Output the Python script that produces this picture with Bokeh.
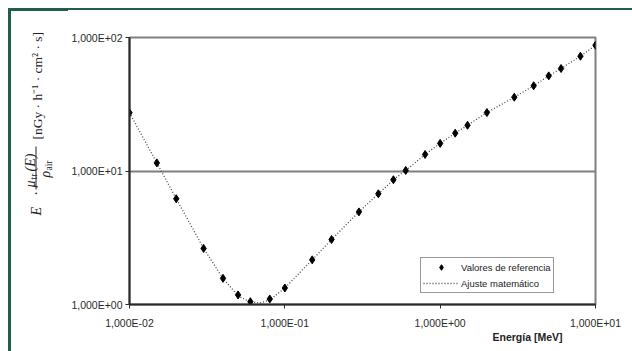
import math
from bokeh.plotting import figure
from bokeh.layouts import row, column
from bokeh.models import (FixedTicker, CustomJSTickFormatter, Title, Spacer,
                          Legend, LegendItem)
from bokeh.core.properties import value
from bokeh.embed import file_html
from bokeh.resources import INLINE

# Energy grid [MeV] and reference values
energy = [0.01, 0.015, 0.02, 0.03, 0.04, 0.05, 0.06, 0.08, 0.1, 0.15, 0.2, 0.3,
          0.4, 0.5, 0.6, 0.8, 1.0, 1.25, 1.5, 2.0, 3.0, 4.0, 5.0, 6.0, 8.0, 10.0]
reference = [27.3, 11.5, 6.2, 2.63, 1.57, 1.18, 1.05, 1.10, 1.33, 2.16, 3.07, 4.94,
             6.75, 8.6, 10.1, 13.3, 16.1, 19.2, 22.0, 27.4, 35.7, 43.5, 51.6, 58.6, 72.4, 87.5]

# Mathematical fit (dotted curve)
fit_energy = [0.01, 0.015, 0.02, 0.03, 0.04, 0.05, 0.06, 0.07, 0.08, 0.1, 0.15, 0.2, 0.3,
              0.4, 0.5, 0.6, 0.8, 1.0, 1.25, 1.5, 2.0, 3.0, 4.0, 5.0, 6.0, 8.0, 10.0]
fit_values = [27.3, 11.5, 6.2, 2.63, 1.57, 1.16, 1.04, 1.03, 1.08, 1.33, 2.16, 3.07, 4.94,
              6.75, 8.6, 10.1, 13.3, 16.1, 19.2, 22.0, 27.4, 35.7, 43.5, 51.6, 58.6, 72.4, 87.5]

x_ticks = [0.01, 0.1, 1, 10]
y_ticks = [1, 10, 100]

x_title = "Energía [MeV]"
series_names = ["Valores de referencia", "Ajuste matemático"]

GREEN = "#1f5d4d"
TXT = "#222222"

def blank(fig, fill="white"):
    fig.axis.visible = False
    fig.grid.visible = False
    fig.outline_line_color = None
    fig.background_fill_color = fill
    fig.border_fill_color = fill
    fig.frame_align = False

# ---------------- main chart (page x 68..632, y 10..351) ----------------
p = figure(width=564, height=341, x_axis_type="log", y_axis_type="log",
           x_range=(0.01, 10), y_range=(1, 100),
           output_backend="svg", toolbar_location=None,
           min_border_left=60, min_border_right=37, min_border_top=27, min_border_bottom=47)
p.frame_align = False
p.background_fill_color = "white"
p.border_fill_color = "white"
p.outline_line_color = "#7f7f7f"
p.outline_line_width = 2

fmt = CustomJSTickFormatter(code="""
const s = tick.toExponential(3);
const parts = s.split('e');
const sign = parts[1][0];
let d = parts[1].slice(1);
if (d.length < 2) { d = '0' + d; }
return parts[0].replace('.', ',') + 'E' + sign + d;
""")

for ax, ticks in ((p.xaxis, x_ticks), (p.yaxis, y_ticks)):
    ax.ticker = FixedTicker(ticks=ticks, minor_ticks=[])
    ax.formatter = fmt
    ax.axis_line_color = "#2a2a2a"
    ax.axis_line_width = 2
    ax.major_tick_line_color = "#2a2a2a"
    ax.major_tick_line_width = 1
    ax.major_tick_out = 4
    ax.major_tick_in = 0
    ax.minor_tick_line_color = None
    ax.major_label_text_font = "Liberation Sans"
    ax.major_label_text_font_size = "10.5px"
    ax.major_label_text_color = "#2a2a2a"
p.xaxis.major_label_standoff = 8
p.yaxis.major_label_standoff = 3

p.xgrid.grid_line_color = None
p.ygrid.ticker = FixedTicker(ticks=y_ticks)
p.ygrid.grid_line_color = "#7f7f7f"
p.ygrid.grid_line_width = 2

line_r = p.line(fit_energy, fit_values, line_color="#4a4a4a", line_width=1.3, line_dash="1 2")
pts_r = p.scatter(energy, reference, marker="diamond", size=8, color="black")

legend = Legend(items=[LegendItem(label=series_names[0], renderers=[pts_r]),
                       LegendItem(label=series_names[1], renderers=[line_r])],
                location=(291, 11))
legend.label_text_font = "Liberation Sans"
legend.label_text_font_size = "9.5px"
legend.label_text_color = TXT
legend.label_height = 14
legend.glyph_height = 14
legend.glyph_width = 36
legend.label_standoff = 2
legend.spacing = 2
legend.padding = 2
legend.margin = 0
legend.border_line_color = "#333333"
legend.border_line_width = 1
legend.background_fill_color = "white"
legend.background_fill_alpha = 1
p.add_layout(legend, "center")

p.add_layout(Title(text=x_title, align="right", offset=33, standoff=-6,
                   text_font="Liberation Sans", text_font_size="10.5px",
                   text_font_style="bold", text_color=TXT), "below")

# ---------------- top strip (page x 68..632, y 0..10) ----------------
gap = Spacer(width=564, height=8)
bar = Spacer(width=564, height=2, styles={"background-color": GREEN})

# ---------------- y-axis title panel (page x 0..68, y 0..351) ----------------
q = figure(width=68, height=351, x_range=(0, 68), y_range=(0, 351),
           output_backend="svg", toolbar_location=None,
           min_border_left=0, min_border_right=0, min_border_top=0, min_border_bottom=0)
blank(q)
q.quad(left=[8], right=[10], bottom=[0], top=[343], color=GREEN)
q.quad(left=[8], right=[68], bottom=[341], top=[343], color=GREEN)

A = math.pi / 2
def piece(X, Y, text, size="13px", style="normal", align="left"):
    # X, Y: page pixel positions (y downward)
    q.text(x=[X], y=[351 - Y], text=[text], angle=A,
           text_font=value("Liberation Serif"), text_font_size=size,
           text_font_style=style, text_color=TXT,
           text_align=align, text_baseline="middle")

piece(36, 215, "E", size="14px", style="italic")
piece(36, 193, "·", size="14px", align="center")
piece(30, 187, "μ", size="14px", style="italic")
piece(33, 179, "tr", size="9.5px")
piece(30, 171, "(E)", size="14px", style="italic")
piece(45, 177, "ρ", size="14px", style="italic")
piece(48, 170, "air", size="9.5px")
piece(36.5, 139, "[nGy · h⁻¹ · cm² · s]", size="13.5px")
q.segment(x0=[35.5], y0=[351 - 189], x1=[35.5], y1=[351 - 146], line_color=TXT, line_width=1)

layout = row(q, column(gap, bar, p, spacing=0), spacing=0)

open("out.html", "w").write(file_html(layout, INLINE))
